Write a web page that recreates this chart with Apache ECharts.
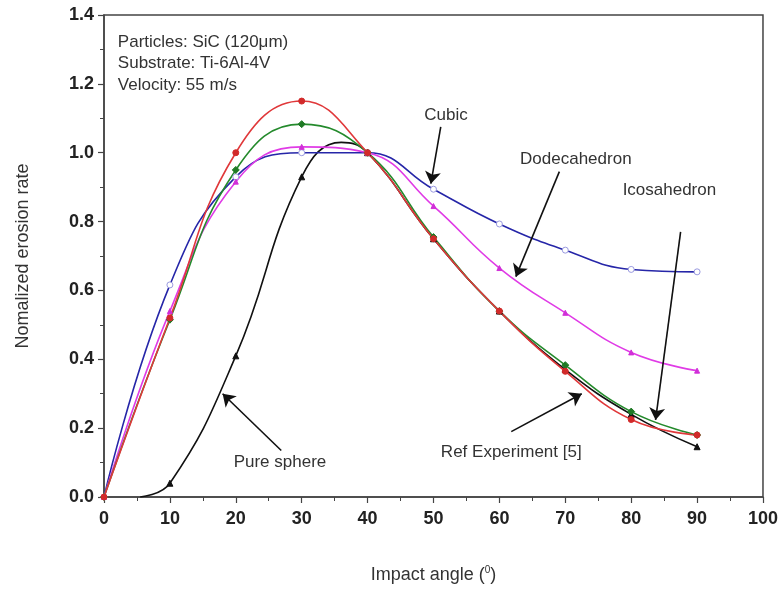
<!DOCTYPE html>
<html>
<head>
<meta charset="utf-8">
<script src="https://cdn.jsdelivr.net/npm/echarts@6/dist/echarts.min.js"></script>
<style>html,body{margin:0;padding:0;background:#fff;}#c{width:781px;height:591px;}</style>
</head>
<body>
<div id="c"></div>
<script>
// ---- data ----
var angles = [0, 10, 20, 30, 40, 50, 60, 70, 80, 90];
var refExperiment = [0, 0.52, 1.0, 1.15, 1.0, 0.75, 0.54, 0.365, 0.225, 0.18];
var icosahedron = [0, 0.515, 0.95, 1.083, 1.0, 0.755, 0.54, 0.383, 0.248, 0.18];
var dodecahedron = [0, 0.54, 0.916, 1.017, 1.0, 0.845, 0.665, 0.535, 0.42, 0.367];
var cubic = [0, 0.616, 0.93, 1.0, 1.0, 0.894, 0.793, 0.717, 0.661, 0.654];
var sphereAngles = [5.5, 10, 20, 30, 36, 40, 50, 60, 70, 80, 90];
var sphereValues = [0, 0.04, 0.41, 0.93, 1.03, 1.0, 0.75, 0.54, 0.37, 0.24, 0.146];
var sphereMarked = [false, true, true, true, false, true, true, true, true, true, true];
var xTicks = [0, 10, 20, 30, 40, 50, 60, 70, 80, 90, 100];
var yTicks = [0, 0.2, 0.4, 0.6, 0.8, 1.0, 1.2, 1.4];
var infoLines = ['Particles: SiC (120\u03bcm)', 'Substrate: Ti-6Al-4V', 'Velocity: 55 m/s'];
// annotation label [text, angle, value]
var labels = [
  ['Cubic', 51.9, 1.11],
  ['Dodecahedron', 71.6, 0.98],
  ['Icosahedron', 85.8, 0.89],
  ['Ref Experiment [5]', 61.8, 0.13],
  ['Pure sphere', 26.7, 0.10]
];
// arrows [fromAngle, fromValue, toAngle, toValue]
var arrows = [
  [51.1, 1.075, 49.6, 0.91],
  [69.1, 0.945, 62.5, 0.64],
  [87.5, 0.77, 83.7, 0.224],
  [61.8, 0.19, 72.5, 0.30],
  [26.9, 0.135, 18.0, 0.30]
];

function pairs(xs, ys) { return xs.map(function (x, i) { return [x, ys[i]]; }); }

var FONT = 'Liberation Sans, Arial, sans-serif';
var chart = echarts.init(document.getElementById('c'), null, { renderer: 'canvas' });

function lineSeries(name, data, color, symbol, size, symColor, borderColor) {
  return {
    name: name, type: 'line', data: data, smooth: 0.45,
    symbol: symbol, symbolSize: size, showSymbol: true,
    lineStyle: { color: color, width: 1.6 },
    itemStyle: { color: symColor || color, borderColor: borderColor || (symColor || color), borderWidth: 1 },
    z: 3
  };
}

var sphereData = sphereAngles.map(function (a, i) {
  var d = { value: [a, sphereValues[i]] };
  if (!sphereMarked[i]) d.symbol = 'none';
  return d;
});

var option = {
  animation: false,
  backgroundColor: '#fff',
  grid: { left: 104, right: 18, top: 15, bottom: 94, show: true, borderColor: '#444', borderWidth: 1.5 },
  xAxis: {
    type: 'value', min: 0, max: 100, interval: 10,
    name: 'Impact angle ({s|0})', nameLocation: 'middle', nameGap: 68,
    nameTextStyle: { fontFamily: FONT, fontSize: 18, color: '#333', rich: { s: { fontSize: 10, verticalAlign: 'top', padding: [0, 0, 10, 0], fontFamily: FONT, color: '#333' } } },
    axisLine: { show: true, lineStyle: { color: '#444', width: 1.5 } },
    axisTick: { show: true, inside: false, length: 6, lineStyle: { color: '#444', width: 1.2 } },
    minorTick: { show: true, splitNumber: 2, length: 4, lineStyle: { color: '#444', width: 1 } },
    splitLine: { show: false },
    axisLabel: { fontFamily: FONT, fontSize: 18, fontWeight: 'bold', color: '#222', margin: 13,
      formatter: function (v) { return xTicks.indexOf(v) >= 0 ? String(v) : ''; } }
  },
  yAxis: {
    type: 'value', min: 0, max: 1.4, interval: 0.2,
    name: 'Nomalized erosion rate', nameLocation: 'middle', nameGap: 72, nameRotate: 90,
    nameTextStyle: { fontFamily: FONT, fontSize: 18, color: '#333' },
    axisLine: { show: true, lineStyle: { color: '#444', width: 1.5 } },
    axisTick: { show: true, inside: false, length: 6, lineStyle: { color: '#444', width: 1.2 } },
    minorTick: { show: true, splitNumber: 2, length: 4, lineStyle: { color: '#444', width: 1 } },
    splitLine: { show: false },
    axisLabel: { fontFamily: FONT, fontSize: 18, fontWeight: 'bold', color: '#222', margin: 10,
      formatter: function (v) { return v.toFixed(1); } }
  },
  series: [
    lineSeries('Pure sphere', sphereData, '#111', 'triangle', 6, '#111'),
    lineSeries('Cubic', pairs(angles, cubic), '#2626a8', 'circle', 6, '#ffffff', '#9a9ae0'),
    lineSeries('Dodecahedron', pairs(angles, dodecahedron), '#e03be6', 'triangle', 5, '#d12fd8'),
    lineSeries('Icosahedron', pairs(angles, icosahedron), '#248a2c', 'diamond', 7, '#1f7a25'),
    lineSeries('Ref Experiment [5]', pairs(angles, refExperiment), '#e0383a', 'circle', 6, '#d22a2a')
  ]
};
option.series[1].markLine = {
  silent: true, symbol: ['none', 'arrow'], symbolSize: 12, animation: false,
  lineStyle: { color: '#111', width: 1.6, type: 'solid' }, label: { show: false },
  data: arrows.map(function (a) {
    return [{ coord: [a[0], a[1]], symbol: 'none' }, { coord: [a[2], a[3]], symbol: 'arrow', symbolSize: 12 }];
  })
};
chart.setOption(option);

var g = [];
labels.forEach(function (l) {
  var p = chart.convertToPixel({ gridIndex: 0 }, [l[1], l[2]]);
  g.push({ type: 'text', x: p[0], y: p[1], z: 10,
    style: { text: l[0], font: '17px ' + FONT, fill: '#333', align: 'center', verticalAlign: 'middle' } });
});
var infoValues = [1.322, 1.259, 1.197];
infoLines.forEach(function (t, i) {
  var p = chart.convertToPixel({ gridIndex: 0 }, [2.1, infoValues[i]]);
  g.push({ type: 'text', x: p[0], y: p[1], z: 10,
    style: { text: t, font: '17px ' + FONT, fill: '#333', align: 'left', verticalAlign: 'middle' } });
});
chart.setOption({ graphic: g });
</script>
</body>
</html>
